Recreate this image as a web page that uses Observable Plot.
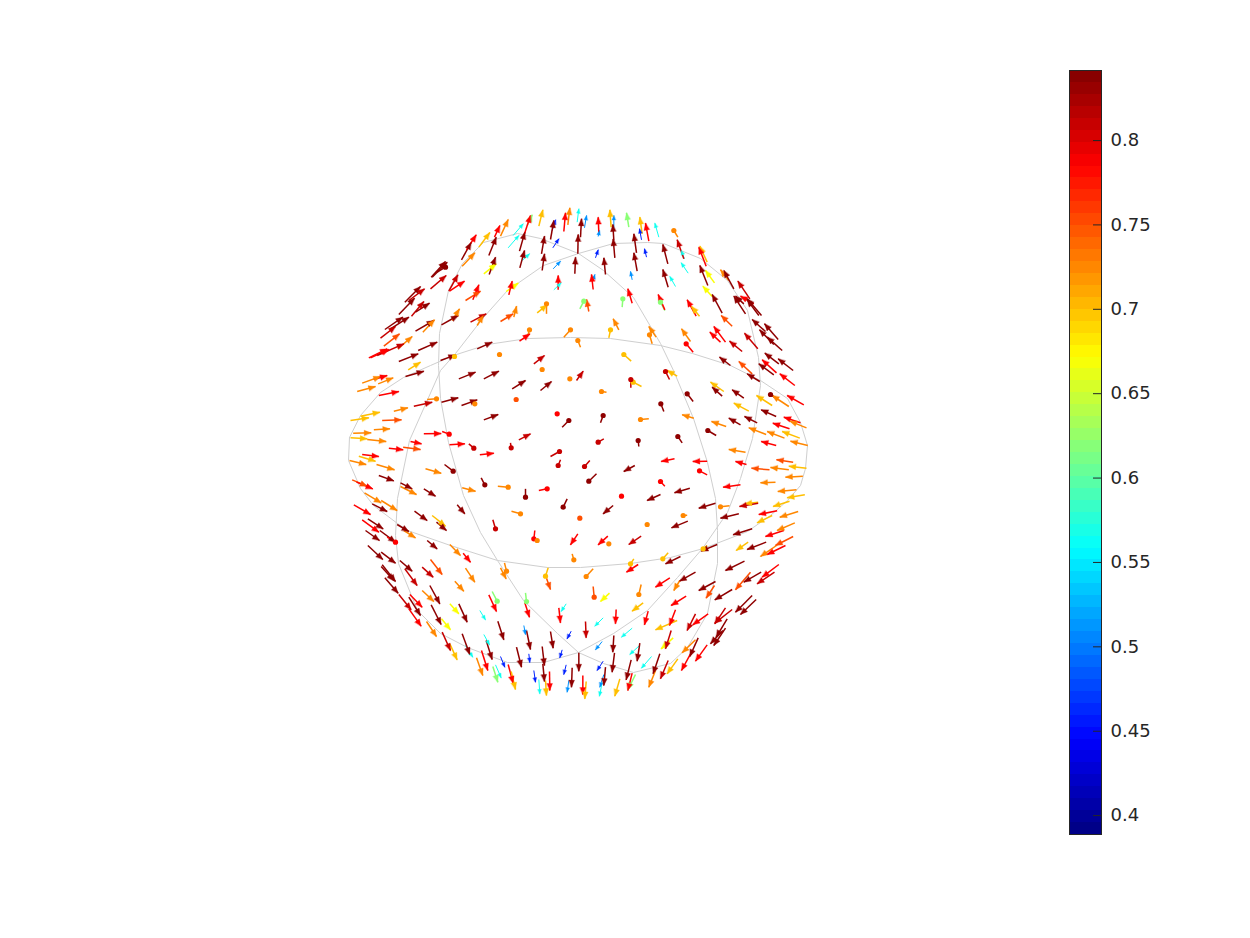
<!DOCTYPE html>
<html>
<head>
<meta charset="utf-8">
<style>
html,body{margin:0;padding:0;background:#fff}
#chart{position:relative;width:1250px;height:938px;font-family:"DejaVu Sans",sans-serif}
#chart svg{position:absolute;left:0;top:0;background:transparent}
</style>
<script src="https://cdn.jsdelivr.net/npm/d3@7"></script>
<script src="https://cdn.jsdelivr.net/npm/@observablehq/plot@0.6"></script>
</head>
<body>
<div id="chart"></div>
<script>
// value levels read against the colour bar
const dr=.835,r2=.81,r=.785,or=.75,o=.725,a=.70,y=.67,g=.62,c=.565,lb=.51,b=.46;
const vMin=.3888,vMax=.8415;
const colorbarTicks=[.4,.45,.5,.55,.6,.65,.7,.75,.8];
const jetStops=[0,.125,.375,.625,.875,1];
const jetColors=["#000080","#0000ff","#00ffff","#ffff00","#ff0000","#800000"];

// three great circles of the wire sphere
const circleA=[[349,437],[360,415],[380,392],[403,377],[430,365],[453,355],[487,344],[527,338],[570,337],[610,338],[660,345],[692,353],[730,365],[760,380],[787,398],[800,422],[807,445],[805,468],[800,485],[787,500],[770,515],[747,531],[703,548],[670,557],[630,563],[580,567],[547,567],[497,560],[450,545],[407,530],[397,523],[373,505],[360,488],[348,460],[349,437]];
const circleB=[[578,253],[540,238],[517,233],[483,242],[462,263],[448,290],[439,333],[438,365],[440,398],[448,442],[463,495],[480,532],[497,560],[523,600],[557,633],[578,652],[603,663],[633,672],[670,663],[687,647],[707,613],[717,563],[717,530],[715,498],[707,462],[693,418],[673,370],[660,343],[633,297],[603,270],[578,253]];
const circleC=[[578,253],[613,243],[647,242],[663,243],[700,258],[727,280],[747,310],[758,357],[760,385],[752,438],[740,478],[727,512],[702,548],[677,577],[647,610],[613,633],[578,652],[543,662],[507,662],[467,647],[440,633],[417,610],[398,563],[395,535],[397,498],[409,440],[440,370],[455,353],[483,317],[507,290],[543,265],[578,253]];

// arrows: tail x, tail y, head x, head y (third-of-a-unit readings per region), value
const upperLeft=[[340,200],[
[363,178,392,126,dr],[378,148,407,103,r],[415,140,448,96,a],[365,197,403,157,o],[445,165,467,110,dr],[462,110,478,75,r],[480,107,503,57,o],[430,220,467,190,y],[446,222,465,170,dr],[503,142,535,105,c],[518,105,548,70,c],[560,75,575,43,g],[537,152,553,95,dr],[552,100,570,45,r],[538,202,552,150,dr],[545,180,567,160,c],[595,77,607,28,a],[670,93,675,37,r],[682,73,688,22,o],[710,65,715,25,c],[635,90,645,58,b],[630,117,640,60,dr],[603,160,612,107,dr],[637,142,655,115,b],[605,210,612,160,dr],[638,205,660,182,lb],[712,160,713,102,dr],[703,220,705,170,dr],[640,268,662,247,c],[653,268,653,225,r],[497,273,533,248,y],[505,283,515,242,r],[590,337,620,313,a],[618,340,618,310,o],[480,363,518,340,or],[520,350,528,317,o],[390,365,437,340,r2],[410,375,428,345,o],[375,300,420,272,or],[397,298,415,253,r],[325,272,352,223,r2],[327,272,372,242,r],[275,230,320,185,dr],[272,230,315,183,dr],[290,215,315,200,dr],[270,265,317,225,r2],[193,305,240,258,dr],[205,300,252,265,r2],[175,342,222,293,dr],[213,347,250,303,r2],[225,335,267,308,dr],[133,387,187,350,dr],[120,413,165,378,r2],[150,385,205,350,dr],[225,392,280,360,dr],[247,395,282,358,o],[303,373,353,345,dr],[335,360,357,325,o],[130,437,177,400,or],[172,445,215,408,o],[85,472,140,445,r],[90,472,145,447,r],[110,465,190,430,r2],[175,483,233,460,dr],[233,450,290,425,dr],[203,508,240,485,a],[300,480,345,463,dr],[342,468,342,468,a],[410,445,455,425,dr],[537,422,568,400,r],[562,405,567,388,o],[670,410,690,388,o],[580,490,612,465,r2],[477,462,477,462,o]
]];
const upperRight=[[570,200],[
[30,110,33,55,dr],[42,82,48,45,lb],[83,108,87,90,lb],[85,97,83,50,r],[122,80,118,28,a],[130,82,130,45,lb],[133,172,128,115,dr],[130,120,127,72,dr],[175,80,168,37,g],[215,100,208,50,a],[213,118,207,85,b],[235,122,225,68,r],[265,110,253,68,c],[198,157,190,100,dr],[200,212,190,157,dr],[228,170,222,145,b],[292,190,277,132,dr],[293,260,277,207,dr],[315,258,298,228,c],[75,172,83,148,b],[105,222,100,172,dr],[185,238,180,213,lb],[70,232,73,222,lb],[68,267,63,222,r],[55,333,48,297,or],[28,325,40,302,g],[155,320,157,295,g],[185,308,172,265,r],[283,330,270,305,g],[283,328,263,282,r],[377,347,350,298,r],[387,347,363,318,a],[145,388,128,355,o],[115,412,120,388,a],[257,410,235,378,o],[245,430,237,403,o],[360,423,333,385,o],[368,455,347,430,r],[30,440,22,420,o],[182,482,160,462,a],[322,110,310,90,o],[342,175,332,150,c],[340,175,320,118,r2],[410,185,388,137,a],[407,197,385,140,r],[353,218,332,187,c],[412,255,388,195,dr],[432,247,405,210,y],[425,288,397,257,y],[455,338,425,282,dr],[475,240,450,208,o],[490,265,460,210,dr],[538,295,502,242,r2],[525,340,490,287,dr],[520,310,495,287,dr],[550,310,510,287,r],[573,345,530,295,dr],[565,345,530,298,dr],[485,377,452,345,or],[465,425,430,378,r],[450,425,418,395,r],[515,453,477,422,r2],[562,445,522,398,r2],[585,393,545,357,dr],[610,432,567,388,dr],[623,417,582,370,dr],[635,450,590,410,dr],[625,490,583,458,dr],[668,510,623,475,dr],[618,517,575,478,r],[610,523,565,490,dr],[480,495,447,470,dr],[545,520,505,483,or]
]];
const middleLeft=[[340,365],[
[65,53,120,33,o],[100,42,140,30,r],[113,55,158,37,o],[50,78,105,63,o],[195,33,250,17,dr],[115,90,175,78,r],[355,40,405,20,dr],[430,40,475,17,dr],[515,70,555,45,dr],[600,75,633,48,dr],[605,12,605,12,o],[688,40,688,40,o],[160,137,202,127,o],[60,152,118,140,a],[220,122,275,110,r2],[260,102,288,100,o],[303,110,353,97,dr],[363,120,410,103,dr],[403,115,403,115,o],[527,102,527,102,or],[30,165,85,157,a],[125,165,183,163,or],[430,163,473,147,dr],[650,145,650,145,r],[665,185,685,165,dr],[38,203,92,202,o],[100,193,148,190,o],[30,217,80,220,a],[80,222,137,228,o],[250,205,302,204,r],[305,198,326,206,r],[210,228,243,235,r],[327,238,373,235,r],[385,235,400,248,r2],[535,223,570,205,r2],[510,232,512,247,r2],[145,248,188,253,r],[188,245,240,252,or],[418,268,460,263,r],[630,273,657,258,r2],[660,283,653,300,r2],[65,267,115,273,r],[55,272,105,287,a],[27,285,77,297,o],[108,297,162,313,o],[255,310,302,323,o],[312,297,338,317,dr],[115,330,160,346,dr],[35,343,80,362,or],[48,350,97,370,r],[180,352,215,370,dr],[180,363,228,387,o],[422,337,433,358,dr],[250,370,285,392,dr],[365,367,405,377,o],[472,362,503,365,o],[555,370,555,395,dr],[595,375,620,370,r],[72,382,122,412,o],[122,405,170,435,o],[95,415,140,438,dr],[40,418,90,447,r],[350,418,373,445,dr],[222,437,260,465,dr],[275,450,315,482,a],[288,470,318,495,dr],[513,437,540,445,o],[680,400,668,425,dr],[457,463,465,490,r2],[65,463,115,500,r],[82,460,128,490,dr],[170,477,205,498,dr]
]];
const middleRight=[[570,365],[
[18,45,38,17,r2],[108,80,93,78,o],[213,63,188,50,a],[181,67,181,42,r2],[320,32,290,15,a],[297,42,285,18,r2],[368,108,350,85,dr],[280,138,271,115,dr],[370,158,335,148,o],[235,160,210,162,o],[90,172,98,150,dr],[205,243,203,225,dr],[100,220,83,230,r2],[335,232,322,213,dr],[312,280,272,288,r],[410,287,367,288,r],[525,260,475,252,o],[437,210,412,195,dr],[467,183,423,168,o],[510,178,475,158,dr],[535,137,490,113,a],[520,98,485,73,dr],[460,78,420,50,a],[455,92,425,65,dr],[560,172,522,153,dr],[605,120,558,90,a],[655,123,605,90,o],[620,100,600,87,dr],[700,118,650,90,r],[617,153,572,133,dr],[587,207,535,187,o],[657,190,607,173,r],[690,172,640,155,r],[708,187,658,167,o],[642,218,590,198,o],[688,218,635,198,a],[617,240,572,228,r],[712,240,660,227,o],[528,297,495,288,r],[597,313,543,308,or],[655,313,600,306,o],[668,290,618,283,or],[708,308,655,302,a],[697,332,645,335,o],[615,350,570,352,o],[410,328,387,316,r],[283,362,270,348,r],[510,358,458,365,r],[678,373,622,378,o],[703,388,650,397,a],[657,407,608,423,a],[563,410,523,415,a],[563,413,507,423,r2],[620,436,565,447,r],[683,438,628,455,o],[605,450,560,472,a],[673,472,620,495,o],[545,490,488,508,dr],[505,445,450,458,dr],[477,421,450,424,o],[435,413,385,428,dr],[358,368,312,382,dr],[270,387,230,405,dr],[193,300,160,318,dr],[78,325,55,347,dr],[58,285,42,303,r2],[153,392,153,392,r],[128,420,98,445,dr],[350,449,338,450,o],[230,477,230,477,o],[352,467,303,487,dr],[28,458,28,458,or],[673,60,628,25,r],[568,48,530,25,dr]
]];
const lowerLeft=[[340,530],[
[75,0,117,30,dr],[118,0,165,35,dr],[140,20,165,35,r],[190,0,225,22,o],[260,30,290,55,dr],[328,42,360,75,o],[368,68,390,95,r],[82,45,127,87,dr],[122,65,165,98,dr],[178,90,215,122,dr],[245,110,278,140,r2],[270,87,305,132,or],[193,115,230,165,r2],[125,103,165,153,dr],[122,108,160,150,dr],[375,113,403,155,o],[343,152,370,182,o],[133,142,173,188,dr],[245,180,280,213,o],[268,165,298,220,dr],[175,192,212,238,r2],[208,192,245,230,r],[205,200,240,255,dr],[205,235,242,287,r],[272,223,302,282,dr],[328,220,355,250,y],[355,220,380,275,dr],[258,273,288,318,o],[303,265,330,298,y],[305,305,330,360,r2],[328,340,350,388,a],[365,310,388,372,dr],[375,345,397,380,c],[418,240,435,268,c],[445,193,468,243,r],[455,183,470,212,g],[472,272,490,328,dr],[430,312,447,343,c],[437,330,455,387,dr],[423,360,442,420,r],[408,382,427,435,o],[480,378,493,410,b],[465,403,482,442,c],[457,408,472,455,g],[503,402,518,458,r],[512,423,525,477,a],[528,350,543,410,dr],[492,97,498,122,o],[480,112,497,145,o],[583,0,580,25,r],[590,30,590,30,o],[695,70,700,88,o],[712,10,690,43,r],[623,112,615,137,a],[618,143,630,177,or],[555,187,558,213,g],[553,217,567,260,r],[550,285,555,312,lb],[558,300,570,357,dr],[565,370,568,396,b],[605,348,612,405,dr],[607,400,612,453,dr],[630,303,638,353,dr],[655,232,660,277,r],[677,220,662,243,c],[692,302,680,325,b],[665,358,658,382,b],[677,403,670,432,b],[715,367,715,422,dr],[695,412,693,470,dr],[627,423,628,480,r],[615,450,618,495,a],[580,420,585,455,b],[595,447,598,490,c],[685,450,680,485,lb]
]];
const lowerRight=[[570,530],[
[112,17,83,43,r],[115,40,115,40,o],[212,17,175,42,r2],[68,115,47,138,o],[190,85,180,100,a],[293,67,277,85,a],[203,102,168,125,r],[330,78,285,100,dr],[410,45,398,55,a],[440,42,392,62,dr],[68,168,71,200,or],[212,162,205,192,o],[117,188,90,213,y],[298,142,255,170,r],[375,125,327,152,dr],[328,150,310,180,o],[218,217,185,242,a],[435,153,385,180,dr],[432,165,407,203,or],[347,197,302,225,r],[485,177,433,208,dr],[522,92,465,120,dr],[533,35,497,60,a],[587,35,530,57,dr],[640,0,585,18,r],[668,18,615,45,or],[618,45,570,78,o],[645,45,590,72,r],[625,102,575,140,r],[572,125,520,155,dr],[612,125,560,160,r2],[540,125,495,178,or],[545,195,495,245,dr],[557,207,510,252,dr],[465,232,433,280,r2],[485,237,433,278,r2],[413,250,367,283,r],[375,250,350,300,r2],[315,238,297,285,r],[233,242,222,283,r],[137,237,135,280,r],[98,262,73,287,c],[45,273,47,322,r2],[185,293,153,320,c],[320,270,255,298,a],[470,265,437,320,dr],[465,293,430,345,dr],[457,300,420,340,dr],[308,322,272,355,y],[302,300,285,355,r2],[95,333,75,358,lb],[130,315,127,365,dr],[207,345,178,372,c],[208,338,200,392,dr],[383,322,358,378,dr],[375,328,335,367,o],[360,370,333,420,r],[410,343,375,392,r],[243,378,213,413,c],[268,370,248,430,dr],[293,390,270,445,r2],[322,385,290,430,a],[98,392,80,420,b],[132,367,125,425,dr],[105,410,100,465,dr],[182,388,167,448,dr],[195,432,172,478,g],[185,428,172,480,r],[255,420,235,470,o],[148,445,133,497,a],[100,432,88,470,lb],[95,455,87,497,c],[37,435,37,492,r],[47,453,43,505,a]
]];

const regions=[upperLeft,upperRight,middleLeft,middleRight,lowerLeft,lowerRight];
const arrows=regions.flatMap(([[ox,oy],rows])=>rows.map(([x1,y1,x2,y2,value])=>{
  const ax=ox+x1/3, ay=oy+y1/3, bx=ox+x2/3, by=oy+y2/3;
  const len=Math.hypot(bx-ax,by-ay);
  return {x1:ax,y1:ay,x2:bx,y2:by,value,len,angle:Math.atan2(bx-ax,-(by-ay))*180/Math.PI};
}));
const thin=arrows.filter(d=>d.value<.6);
const thick=arrows.filter(d=>d.value>=.6);
const pointed=thick.filter(d=>d.len>=11);
const round=thick.filter(d=>d.len<11);

const colorOptions={type:"linear",domain:jetStops.map(t=>vMin+t*(vMax-vMin)),range:jetColors,interpolate:"rgb",clamp:true};
const headShape={draw(ctx,l){const w=l*.4;ctx.moveTo(0,-l);ctx.lineTo(-w,0);ctx.lineTo(w,0);ctx.closePath();}};
const gridLine=pts=>Plot.line(pts,{x:d=>d[0],y:d=>d[1],stroke:"#cfcfcf",strokeWidth:1});

const sphere=Plot.plot({
  width:1250,height:938,margin:0,
  x:{domain:[0,1250],range:[0,1250],axis:null},
  y:{domain:[0,938],range:[0,938],axis:null},
  color:colorOptions,
  marks:[
    gridLine(circleA),gridLine(circleB),gridLine(circleC),
    Plot.link(thin,{x1:"x1",y1:"y1",x2:"x2",y2:"y2",stroke:"value",strokeWidth:1,curve:"linear"}),
    Plot.link(thick,{x1:"x1",y1:"y1",x2:"x2",y2:"y2",stroke:"value",strokeWidth:1.5,curve:"linear"}),
    Plot.vector(thin,{x:"x2",y:"y2",rotate:"angle",length:4.5,anchor:"end",shape:headShape,fill:"value",stroke:"value",strokeWidth:.3}),
    Plot.vector(pointed,{x:"x2",y:"y2",rotate:"angle",length:7,anchor:"end",shape:headShape,fill:"value",stroke:"value",strokeWidth:.3}),
    Plot.dot(round,{x:"x2",y:"y2",r:2.6,fill:"value"})
  ]
});

const levels=d3.range(64).map(i=>({lo:vMin+i*(vMax-vMin)/64,hi:vMin+(i+1)*(vMax-vMin)/64}));
const colorbar=Plot.plot({
  width:1250,height:938,marginLeft:1069,marginRight:149,marginTop:70,marginBottom:104,
  x:{domain:[0,1],axis:null},
  y:{domain:[vMin,vMax],axis:null},
  color:colorOptions,
  style:{fontFamily:"DejaVu Sans",background:"transparent"},
  marks:[
    Plot.rect(levels,{x1:0,x2:1,y1:"lo",y2:"hi",fill:d=>(d.lo+d.hi)/2,shapeRendering:"crispEdges"}),
    Plot.ruleY(colorbarTicks,{x1:.75,x2:1,stroke:"#262626",strokeWidth:1}),
    Plot.frame({stroke:"#262626",strokeWidth:1}),
    Plot.axisY(colorbarTicks,{anchor:"right",tickSize:0,tickPadding:9,fontSize:18,fill:"#262626",tickFormat:d=>String(d),label:null})
  ]
});

const host=document.getElementById("chart");
host.appendChild(sphere);
host.appendChild(colorbar);
</script>
</body>
</html>
